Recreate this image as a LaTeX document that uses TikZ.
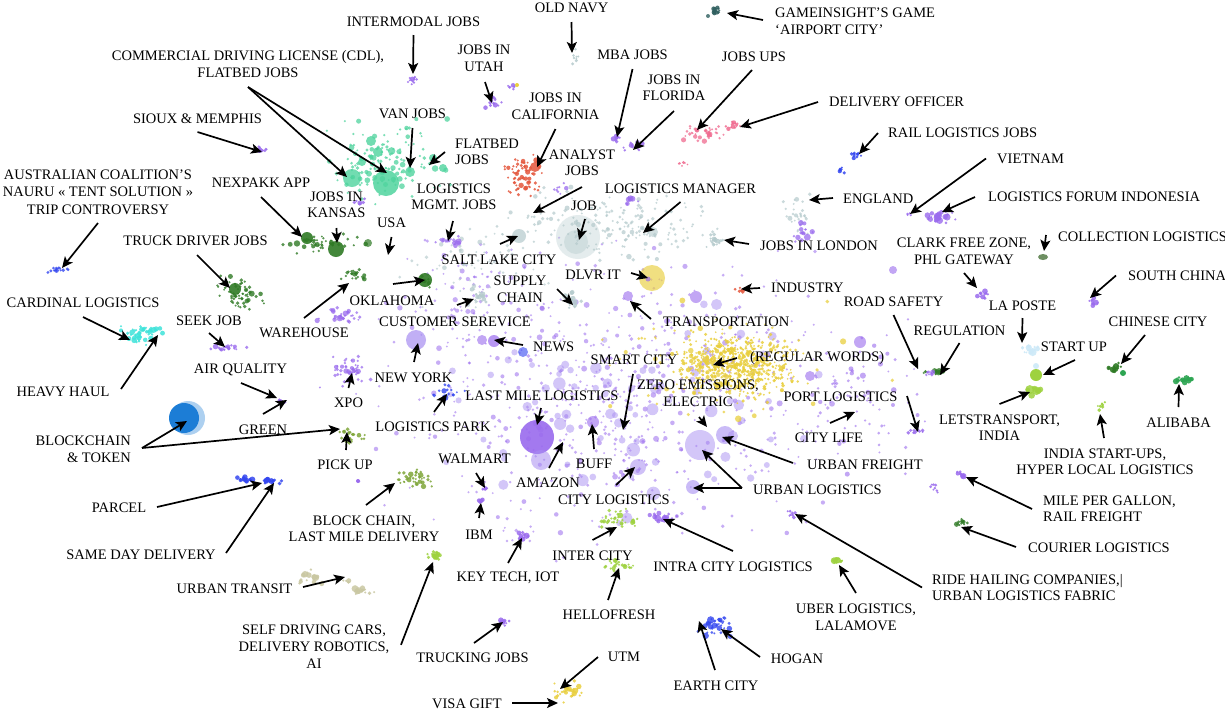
\documentclass[tikz,border=0pt]{standalone}
\usepackage{fontspec}
\setmainfont{Liberation Serif}
\usetikzlibrary{arrows.meta,calc}
\definecolor{purp}{HTML}{9A6BEE}
\definecolor{lpurp}{HTML}{A88EF2}
\definecolor{tealc}{HTML}{4FD49E}
\definecolor{dkg}{HTML}{2F7A25}
\definecolor{olv}{HTML}{7FA63A}
\definecolor{cyn}{HTML}{3FE3DA}
\definecolor{redc}{HTML}{E4563C}
\definecolor{pnk}{HTML}{F06B90}
\definecolor{gry}{HTML}{B4CACC}
\definecolor{ylw}{HTML}{E9CF3E}
\definecolor{blu}{HTML}{3447F0}
\definecolor{khk}{HTML}{C9C7A2}
\definecolor{lim}{HTML}{9ED23F}
\definecolor{dtl}{HTML}{2F5F5F}
\definecolor{lbl}{HTML}{CDE9F8}
\definecolor{bcb}{HTML}{1C7DD6}
\definecolor{grnc}{HTML}{2DA552}
\definecolor{dgg}{HTML}{6E8F62}
\newcommand{\clus}[9]{%
  \pgfmathsetseed{#1}%
  \foreach \k in {1,...,#6}{%
    \pgfmathsetmacro{\px}{#2+#4*(rand+rand+rand)/1.5}%
    \pgfmathsetmacro{\py}{#3+#5*(rand+rand+rand)/1.5}%
    \pgfmathsetmacro{\pr}{1.3*(#7+(#8-#7)*rnd*rnd)}%
    \fill[#9] (\px,\py) circle[radius=\pr pt];%
  }%
}
\tikzset{
  lab/.style={font=\fontsize{14.5}{16.5}\selectfont, inner sep=0pt, text=black},
  arr/.style={-{Stealth[length=11pt,width=10pt,inset=2.5pt]}, line width=1.7pt, black},
}
\begin{document}
\begin{tikzpicture}[x=1pt,y=-1pt]
\fill[white] (0,0) rectangle (1225,713);
\useasboundingbox (0,0) rectangle (1225,713);

% ---------------- scatter background ----------------
\clus{11}{610}{400}{150}{95}{650}{0.8}{2.4}{purp,opacity=.55}
\clus{12}{620}{410}{130}{80}{80}{2.2}{5.5}{lpurp,opacity=.5}
\clus{13}{860}{400}{40}{50}{80}{0.8}{2.6}{purp,opacity=.6}
\clus{14}{470}{300}{50}{40}{90}{0.8}{2.4}{purp,opacity=.55}
\clus{21}{610}{225}{70}{22}{200}{0.8}{2.2}{gry,opacity=.7}
\clus{22}{480}{270}{50}{30}{70}{0.8}{2.2}{gry,opacity=.65}
\clus{23}{800}{215}{10}{15}{30}{0.8}{2.2}{gry,opacity=.7}
\clus{24}{712}{240}{9}{4}{22}{0.8}{2.4}{gry,opacity=.8}
\clus{25}{478}{297}{6}{5}{15}{0.8}{2.5}{gry,opacity=.8}
\clus{26}{571}{300}{6}{5}{15}{0.8}{2.5}{gry,opacity=.8}
\clus{27}{576}{58}{3}{5}{8}{0.8}{2.2}{gry,opacity=.85}
\fill[gry,opacity=.35] (578,237) circle[radius=22pt];
\fill[gry,opacity=.4] (576,242) circle[radius=12pt];
\fill[gry,opacity=.7] (519,236) circle[radius=7pt];
\fill[gry,opacity=.6] (653,232) circle[radius=5pt];
\clus{31}{450}{240}{10}{4}{20}{0.8}{2.8}{purp,opacity=.75}
\clus{32}{560}{190}{5}{5}{8}{0.8}{2.5}{purp,opacity=.75}
\clus{33}{628}{200}{6}{3}{8}{0.8}{2.5}{purp,opacity=.75}
\clus{34}{803}{232}{6}{6}{18}{0.8}{3}{purp,opacity=.75}
\clus{41}{735}{365}{42}{22}{650}{0.7}{1.9}{ylw,opacity=.85}
\clus{42}{720}{360}{90}{40}{70}{0.8}{2.8}{ylw,opacity=.75}
\fill[ylw,opacity=.65] (652,278) circle[radius=13pt];
\fill[purp,opacity=.7] (648,279) circle[radius=2.5pt];
\clus{51}{413}{80}{5}{3}{12}{0.8}{2.5}{purp,opacity=.85}
\clus{52}{262}{150}{5}{2}{10}{0.8}{2.5}{purp,opacity=.85}
\clus{53}{716}{11}{4}{3}{12}{0.8}{3}{dtl,opacity=.85}
\fill[dtl,opacity=.8] (708,16) circle[radius=2pt];
\clus{54}{493}{103}{6}{5}{14}{0.8}{2.8}{purp,opacity=.85}
\clus{55}{512}{88}{4}{2}{6}{0.8}{2.2}{purp,opacity=.85}
\fill[ylw] (517,85) circle[radius=2pt];
\clus{56}{618}{139}{5}{3}{10}{0.8}{2.8}{purp,opacity=.85}
\clus{57}{633}{147}{7}{4}{12}{0.8}{2.8}{purp,opacity=.85}
\clus{61}{702}{132}{14}{6}{40}{0.7}{2.4}{pnk,opacity=.75}
\clus{62}{735}{125}{6}{3}{15}{0.7}{2.6}{pnk,opacity=.85}
\clus{63}{682}{164}{3}{2}{6}{0.7}{2.2}{pnk,opacity=.85}
\clus{64}{855}{155}{5}{2}{12}{0.8}{2.5}{blu,opacity=.85}
\clus{65}{841}{170}{3}{2}{8}{0.8}{2.5}{blu,opacity=.85}
\clus{66}{909}{214}{2}{1}{4}{0.8}{2}{purp,opacity=.85}
\clus{67}{940}{216}{10}{4}{25}{0.8}{3}{purp,opacity=.8}
\fill[dgg] (1043,257) ellipse[x radius=5pt,y radius=3pt];
\clus{68}{986}{295}{5}{3}{12}{0.8}{2.8}{purp,opacity=.85}
\clus{69}{1092}{303}{4}{3}{10}{0.8}{2.8}{purp,opacity=.85}
\clus{70}{1030}{350}{8}{4}{16}{0.8}{3.2}{lbl,opacity=.9}
\clus{71}{935}{372}{8}{2}{20}{0.8}{2.5}{dkg,opacity=.75}
\clus{72}{928}{373}{4}{2}{8}{0.8}{2.2}{purp,opacity=.75}
\fill[lbl,opacity=.9] (1036,366) circle[radius=3pt];
\fill[lim] (1036,375) circle[radius=6pt];
\clus{73}{1035}{390}{5}{3}{12}{0.8}{4}{lim,opacity=.85}
\clus{74}{1115}{367}{5}{3}{12}{0.8}{3}{dkg,opacity=.9}
\fill[grnc] (1123,373) circle[radius=3pt];
\clus{75}{1183}{380}{7}{2}{16}{0.8}{2.6}{grnc,opacity=.9}
\clus{76}{1102}{405}{4}{3}{8}{0.8}{3}{lim,opacity=.9}
\clus{77}{915}{431}{6}{2}{10}{0.8}{2.5}{purp,opacity=.85}
\clus{78}{962}{475}{4}{3}{10}{0.8}{2.6}{purp,opacity=.85}
\clus{79}{935}{488}{3}{3}{8}{0.8}{2.4}{purp,opacity=.85}
\clus{80}{960}{523}{4}{3}{12}{0.8}{2.4}{dkg,opacity=.8}
\clus{81}{792}{514}{4}{2}{8}{0.8}{2.4}{purp,opacity=.85}
\clus{82}{838}{561}{4}{2}{10}{0.8}{3}{lim,opacity=.9}
\clus{83}{715}{625}{12}{7}{35}{0.8}{3.5}{blu,opacity=.8}
\clus{84}{620}{565}{10}{4}{25}{0.8}{2.4}{lim,opacity=.85}
\clus{85}{616}{520}{14}{7}{35}{0.8}{2.4}{lim,opacity=.85}
\clus{86}{660}{517}{10}{4}{20}{0.8}{3}{purp,opacity=.8}
\clus{87}{522}{537}{4}{4}{12}{0.8}{3}{purp,opacity=.85}
\clus{88}{503}{622}{4}{2}{10}{0.8}{2.6}{purp,opacity=.85}
\clus{89}{570}{692}{12}{7}{30}{0.8}{2.4}{ylw,opacity=.85}
\clus{90}{436}{556}{7}{3}{20}{0.8}{2.4}{lim,opacity=.85}
\clus{91}{312}{578}{8}{5}{20}{0.8}{3}{khk,opacity=.85}
\clus{92}{363}{590}{7}{3}{15}{0.8}{3}{khk,opacity=.85}
\clus{93}{348}{581}{3}{2}{4}{0.8}{2}{khk,opacity=.85}
\clus{94}{245}{479}{6}{2}{15}{0.8}{2.6}{blu,opacity=.85}
\clus{95}{272}{481}{8}{2}{20}{0.8}{2.6}{blu,opacity=.85}
\clus{96}{412}{478}{12}{6}{40}{0.8}{2.4}{olv,opacity=.85}
\fill[purp] (358,481) circle[radius=2pt];
\clus{97}{350}{436}{10}{5}{25}{0.8}{2.2}{olv,opacity=.85}
\clus{98}{486}{488}{3}{2}{6}{0.8}{2.6}{purp,opacity=.9}
\clus{99}{481}{501}{3}{2}{6}{0.8}{2.6}{purp,opacity=.9}
\fill[bcb!45,opacity=.8] (188,418) circle[radius=17pt];
\fill[bcb] (184,418) circle[radius=15pt];
\clus{101}{282}{401}{3}{2}{6}{0.8}{2.5}{purp,opacity=.9}
\clus{102}{228}{348}{12}{2}{22}{0.8}{2.4}{purp,opacity=.8}
\clus{103}{350}{372}{16}{12}{45}{0.8}{2.4}{purp,opacity=.75}
\clus{104}{340}{316}{16}{5}{30}{0.8}{2.6}{purp,opacity=.75}
\clus{105}{142}{334}{17}{7}{45}{0.8}{2.8}{cyn,opacity=.85}
\clus{106}{60}{270}{8}{2}{15}{0.8}{2.2}{blu,opacity=.8}
\clus{107}{240}{292}{16}{12}{60}{0.8}{2.4}{dkg,opacity=.8}
\fill[dkg,opacity=.9] (235,289) circle[radius=6pt];
\clus{108}{322}{244}{24}{6}{45}{0.8}{2.6}{dkg,opacity=.8}
\fill[dkg,opacity=.9] (307,238) circle[radius=6pt];
\fill[dkg,opacity=.9] (336,249) circle[radius=8pt];
\fill[dkg,opacity=.7] (368,243) circle[radius=4pt];
\clus{109}{356}{275}{8}{4}{20}{0.8}{2.4}{dkg,opacity=.8}
\clus{110}{425}{281}{5}{4}{10}{0.8}{2.4}{dkg,opacity=.8}
\fill[dkg,opacity=.9] (425,280) circle[radius=7pt];
\clus{111}{446}{392}{12}{5}{15}{0.8}{2.6}{blu,opacity=.8}
\clus{121}{385}{160}{36}{25}{150}{0.8}{3}{tealc,opacity=.75}
\fill[tealc,opacity=.85] (386,183) circle[radius=13pt];
\fill[tealc,opacity=.8] (352,178) circle[radius=9pt];
\fill[tealc,opacity=.8] (371,141) circle[radius=5pt];
\fill[tealc,opacity=.8] (378,152) circle[radius=5pt];
\fill[tealc,opacity=.8] (410,172) circle[radius=5pt];
\fill[tealc,opacity=.8] (362,162) circle[radius=4pt];
\fill[tealc,opacity=.8] (433,158) circle[radius=4pt];
\fill[tealc,opacity=.8] (443,168) circle[radius=4pt];
\clus{122}{360}{203}{5}{3}{6}{0.8}{2.4}{purp,opacity=.85}
\clus{131}{522}{175}{14}{13}{70}{0.8}{2.4}{redc,opacity=.85}
\fill[redc,opacity=.85] (535,167) circle[radius=5pt];
\clus{132}{741}{289}{5}{2}{8}{0.8}{2.5}{redc,opacity=.85}
\fill[lpurp,opacity=.7] (416,340) circle[radius=10pt];
\fill[purp,opacity=.9] (537,437) circle[radius=17pt];
\fill[lpurp,opacity=.55] (541,460) circle[radius=10pt];
\fill[purp,opacity=.6] (593,422) circle[radius=6pt];
\fill[lpurp,opacity=.55] (638,467) circle[radius=8pt];
\fill[lpurp,opacity=.5] (700,445) circle[radius=15pt];
\fill[lpurp,opacity=.6] (725,435) circle[radius=9pt];
\fill[lpurp,opacity=.6] (693,487) circle[radius=7pt];
\fill[purp,opacity=.7] (494,341) circle[radius=6pt];
\fill[purp,opacity=.6] (482,340) circle[radius=5pt];
\fill[blu,opacity=.6] (523,352) circle[radius=5pt];
\fill[purp,opacity=.6] (628,296) circle[radius=5pt];
\fill[purp,opacity=.6] (696,297) circle[radius=6pt];
\fill[purp,opacity=.6] (860,342) circle[radius=6pt];
\fill[purp,opacity=.6] (810,376) circle[radius=5pt];
\fill[purp,opacity=.6] (893,270) circle[radius=4pt];

% ---------------- labels ----------------
\node[lab] (intermodal) at (413.5,22) {INTERMODAL JOBS};
\node[lab] (oldnavy) at (571.5,8) {OLD NAVY};
\node[lab,align=left,anchor=west] (game) at (775,21) {GAMEINSIGHT’S GAME\\‘AIRPORT CITY’};
\node[lab,align=center] (cdl) at (248,64) {COMMERCIAL DRIVING LICENSE (CDL),\\FLATBED JOBS};
\node[lab] (sioux) at (197.5,118.5) {SIOUX \& MEMPHIS};
\node[lab,align=center,font=\fontsize{14.5}{17.3}\selectfont] (aus) at (98,192) {AUSTRALIAN COALITION’S\\NAURU « TENT SOLUTION »\\TRIP CONTROVERSY};
\node[lab] (nexpakk) at (261,183) {NEXPAKK APP};
\node[lab,align=center] (kansas) at (336.5,205) {JOBS IN\\KANSAS};
\node[lab] (van) at (412.5,114) {VAN JOBS};
\node[lab,align=left,anchor=west] (flatbed) at (455,152) {FLATBED\\JOBS};
\node[lab,align=center] (mgmt) at (454,197) {LOGISTICS\\MGMT. JOBS};
\node[lab] (usa) at (391.5,223) {USA};
\node[lab,align=center] (utah) at (484,58.5) {JOBS IN\\UTAH};
\node[lab,align=center] (calif) at (555.5,106.5) {JOBS IN\\CALIFORNIA};
\node[lab,align=center] (analyst) at (582,163) {ANALYST\\JOBS};
\node[lab] (mba) at (632.5,55) {MBA JOBS};
\node[lab,align=center] (florida) at (674,88) {JOBS IN\\FLORIDA};
\node[lab] (ups) at (754,57) {JOBS UPS};
\node[lab,anchor=west] (delivery) at (829,102) {DELIVERY OFFICER};
\node[lab,anchor=west] (rail) at (888,133) {RAIL LOGISTICS JOBS};
\node[lab,anchor=west] (vietnam) at (997,158.5) {VIETNAM};
\node[lab,anchor=west] (forum) at (988,197) {LOGISTICS FORUM INDONESIA};
\node[lab,anchor=west] (england) at (843,199) {ENGLAND};
\node[lab,anchor=west] (london) at (760,245.5) {JOBS IN LONDON};
\node[lab,anchor=west] (collection) at (1058,236.5) {COLLECTION LOGISTICS};
\node[lab,align=center] (clark) at (964,251.5) {CLARK FREE ZONE,\\PHL GATEWAY};
\node[lab,anchor=west] (southchina) at (1128,275.5) {SOUTH CHINA};
\node[lab] (laposte) at (1022.5,305.5) {LA POSTE};
\node[lab] (roadsafety) at (893.5,302) {ROAD SAFETY};
\node[lab] (regulation) at (959.5,330.5) {REGULATION};
\node[lab] (startup) at (1074,346.5) {START UP};
\node[lab] (chinese) at (1158,321.5) {CHINESE CITY};
\node[lab] (alibaba) at (1178.5,422.5) {ALIBABA};
\node[lab,align=center] (lets) at (999.5,427.5) {LETSTRANSPORT,\\INDIA};
\node[lab,align=center] (indiastart) at (1105,462) {INDIA START-UPS,\\HYPER LOCAL LOGISTICS};
\node[lab] (port) at (840.5,397) {PORT LOGISTICS};
\node[lab] (citylife) at (829,437.5) {CITY LIFE};
\node[lab,anchor=west] (ufreight) at (807,464.5) {URBAN FREIGHT};
\node[lab,anchor=west] (ulog) at (753,489.5) {URBAN LOGISTICS};
\node[lab,anchor=west] (regwords) at (750,358) {(REGULAR WORDS)};
\node[lab,anchor=west] (transport) at (663,321.5) {TRANSPORTATION};
\node[lab,anchor=west] (industry) at (771,288) {INDUSTRY};
\node[lab] (dlvr) at (593,274.5) {DLVR IT};
\node[lab] (logmgr) at (680.5,188.7) {LOGISTICS MANAGER};
\node[lab] (job) at (584,205.5) {JOB};
\node[lab] (saltlake) at (499,259.5) {SALT LAKE CITY};
\node[lab] (oklahoma) at (392,300.5) {OKLAHOMA};
\node[lab,align=center] (supply) at (520,289.5) {SUPPLY\\CHAIN};
\node[lab] (custsvc) at (455,321.5) {CUSTOMER SEREVICE};
\node[lab] (warehouse) at (304,332.5) {WAREHOUSE};
\node[lab] (newyork) at (413.5,378) {NEW YORK};
\node[lab,anchor=west] (news) at (533,346.5) {NEWS};
\node[lab] (truckdriver) at (195.5,241) {TRUCK DRIVER JOBS};
\node[lab] (cardinal) at (83,303) {CARDINAL LOGISTICS};
\node[lab] (heavyhaul) at (63,391.5) {HEAVY HAUL};
\node[lab] (seekjob) at (209,320.5) {SEEK JOB};
\node[lab] (airq) at (240.5,370) {AIR QUALITY};
\node[lab] (green) at (263,429.5) {GREEN};
\node[lab] (xpo) at (348.5,403) {XPO};
\node[lab,align=right,anchor=east] (blockchain) at (131,449.5) {BLOCKCHAIN\\\& TOKEN};
\node[lab] (pickup) at (345,464.5) {PICK UP};
\node[lab] (logpark) at (433,427) {LOGISTICS PARK};
\node[lab] (lastmile) at (542,395.5) {LAST MILE LOGISTICS};
\node[lab] (walmart) at (474.5,458.5) {WALMART};
\node[lab] (ibm) at (479,534.5) {IBM};
\node[lab] (amazon) at (548,483) {AMAZON};
\node[lab] (buff) at (594,464) {BUFF};
\node[lab] (smartcity) at (634,359.5) {SMART CITY};
\node[lab,align=center] (zero) at (698,393.5) {ZERO EMISSIONS,\\ELECTRIC};
\node[lab] (citylog) at (614,499.5) {CITY LOGISTICS};
\node[lab] (intercity) at (592.5,555.5) {INTER CITY};
\node[lab] (intracity) at (733,566.5) {INTRA CITY LOGISTICS};
\node[lab] (keytech) at (508,578) {KEY TECH, IOT};
\node[lab] (hellofresh) at (609,614.5) {HELLOFRESH};
\node[lab,align=center] (bclmd) at (364,529) {BLOCK CHAIN,\\LAST MILE DELIVERY};
\node[lab] (parcel) at (119,508) {PARCEL};
\node[lab] (sameday) at (141,554.5) {SAME DAY DELIVERY};
\node[lab] (utransit) at (234.5,588.5) {URBAN TRANSIT};
\node[lab,align=center,font=\fontsize{14.5}{17.3}\selectfont] (selfdrv) at (314,646.8) {SELF DRIVING CARS,\\DELIVERY ROBOTICS,\\AI};
\node[lab] (trucking) at (472.5,658) {TRUCKING JOBS};
\node[lab] (utm) at (624,657) {UTM};
\node[lab] (visa) at (467,703.5) {VISA GIFT};
\node[lab] (earth) at (716,685.5) {EARTH CITY};
\node[lab] (hogan) at (797,658.5) {HOGAN};
\node[lab,align=center] (uber) at (856,617.5) {UBER LOGISTICS,\\LALAMOVE};
\node[lab,align=left,anchor=west] (ride) at (932,587.5) {RIDE HAILING COMPANIES,|\\URBAN LOGISTICS FABRIC};
\node[lab,anchor=west] (courier) at (1028,548) {COURIER LOGISTICS};
\node[lab,align=left,anchor=west] (mpg) at (1043,509) {MILE PER GALLON,\\RAIL FREIGHT};

% ---------------- arrow targets ----------------
\coordinate (t-intermodal) at (413,74);
\coordinate (t-oldnavy) at (572,53);
\coordinate (t-game) at (727,13);
\coordinate (t-cdl1) at (347,177);
\coordinate (t-cdl2) at (387,173);
\coordinate (t-sioux) at (262,152);
\coordinate (t-aus) at (62,268);
\coordinate (t-nexpakk) at (302,237);
\coordinate (t-kansas) at (337,243);
\coordinate (t-van) at (410,168);
\coordinate (t-flatbed) at (429,165);
\coordinate (t-mgmt) at (448,241);
\coordinate (t-usa) at (388,255);
\coordinate (t-utah) at (492,103);
\coordinate (t-calif) at (537,167);
\coordinate (t-analyst) at (533,213);
\coordinate (t-mba) at (617,137);
\coordinate (t-florida) at (633,150);
\coordinate (t-ups) at (697,130);
\coordinate (t-delivery) at (740,127);
\coordinate (t-rail) at (859,154);
\coordinate (t-vietnam) at (910,214);
\coordinate (t-forum) at (942,212);
\coordinate (t-england) at (809,200);
\coordinate (t-london) at (724,240);
\coordinate (t-collection) at (1044,251);
\coordinate (t-clark) at (977,288);
\coordinate (t-southchina) at (1090,298);
\coordinate (t-laposte) at (1022,343);
\coordinate (t-roadsafety) at (918,369);
\coordinate (t-regulation) at (940,375);
\coordinate (t-startup) at (1043,375);
\coordinate (t-chinese) at (1121,364);
\coordinate (t-alibaba) at (1179,384);
\coordinate (t-lets) at (1030,392);
\coordinate (t-indiastart) at (1100,414);
\coordinate (t-port) at (918,432);
\coordinate (t-citylife) at (855,412);
\coordinate (t-ufreight) at (722,437);
\coordinate (t-ulog1) at (702,450);
\coordinate (t-ulog2) at (693,488);
\coordinate (t-regwords) at (713,365);
\coordinate (t-transport) at (630,301);
\coordinate (t-industry) at (741,289);
\coordinate (t-dlvr) at (648,278);
\coordinate (t-logmgr) at (643,233);
\coordinate (t-job) at (579,240);
\coordinate (t-saltlake) at (518,236);
\coordinate (t-oklahoma) at (425,280);
\coordinate (t-supply) at (573,305);
\coordinate (t-custsvc) at (474,299);
\coordinate (t-warehouse) at (349,283);
\coordinate (t-newyork) at (418,343);
\coordinate (t-news) at (494,340);
\coordinate (t-truckdriver) at (230,288);
\coordinate (t-cardinal) at (130,340);
\coordinate (t-heavyhaul) at (158,335);
\coordinate (t-seekjob) at (225,347);
\coordinate (t-airq) at (277,398);
\coordinate (t-green) at (287,400);
\coordinate (t-xpo) at (352,373);
\coordinate (t-bc1) at (187,421);
\coordinate (t-bc2) at (340,429);
\coordinate (t-pickup) at (347,432);
\coordinate (t-logpark) at (447,394);
\coordinate (t-lastmile) at (537,425);
\coordinate (t-walmart) at (485,488);
\coordinate (t-ibm) at (481,503);
\coordinate (t-amazon) at (563,442);
\coordinate (t-buff) at (592,424);
\coordinate (t-smartcity) at (623,430);
\coordinate (t-zero) at (707,427);
\coordinate (t-citylog) at (635,467);
\coordinate (t-intercity) at (617,527);
\coordinate (t-intracity) at (663,519);
\coordinate (t-keytech) at (522,538);
\coordinate (t-hellofresh) at (619,568);
\coordinate (t-bclmd) at (395,483);
\coordinate (t-parcel) at (262,483);
\coordinate (t-sameday) at (274,483);
\coordinate (t-utransit) at (345,577);
\coordinate (t-selfdrv) at (433,562);
\coordinate (t-trucking) at (503,622);
\coordinate (t-utm) at (560,689);
\coordinate (t-visa) at (558,703);
\coordinate (t-earth) at (699,621);
\coordinate (t-hogan) at (721,629);
\coordinate (t-uber) at (839,565);
\coordinate (t-ride) at (795,514);
\coordinate (t-courier) at (961,527);
\coordinate (t-mpg) at (966,477);

% ---------------- arrows ----------------
\draw[arr] ($(intermodal)+(0,13)$) -- (t-intermodal);
\draw[arr] ($(oldnavy)+(0,14)$) -- (t-oldnavy);
\draw[arr] ($(game.west)+(-12,-1)$) -- (t-game);
\draw[arr] ($(cdl)+(0,23)$) -- (t-cdl1);
\draw[arr] ($(cdl)+(0,23)$) -- (t-cdl2);
\draw[arr] ($(sioux)+(0,13.5)$) -- (t-sioux);
\draw[arr] ($(aus)+(0,31)$) -- (t-aus);
\draw[arr] ($(nexpakk)+(0,14)$) -- (t-nexpakk);
\draw[arr] ($(kansas)+(0,23)$) -- (t-kansas);
\draw[arr] ($(van)+(0,14)$) -- (t-van);
\draw[arr] ($(flatbed.west)+(-10,0)$) -- (t-flatbed);
\draw[arr] ($(mgmt)+(-1,24)$) -- (t-mgmt);
\draw[arr] ($(usa)+(0,14)$) -- (t-usa);
\draw[arr] ($(utah)+(1,23.5)$) -- (t-utah);
\draw[arr] ($(calif)+(0,22.5)$) -- (t-calif);
\draw[arr] ($(analyst)+(0,24)$) -- (t-analyst);
\draw[arr] ($(mba)+(0,14)$) -- (t-mba);
\draw[arr] ($(florida)+(0,23)$) -- (t-florida);
\draw[arr] ($(ups)+(-2,13)$) -- (t-ups);
\draw[arr] ($(delivery.west)+(-11,0)$) -- (t-delivery);
\draw[arr] ($(rail.west)+(-10,0)$) -- (t-rail);
\draw[arr] ($(vietnam.west)+(-11,0)$) -- (t-vietnam);
\draw[arr] ($(forum.west)+(-13,0)$) -- (t-forum);
\draw[arr] ($(england.west)+(-10,-1)$) -- (t-england);
\draw[arr] ($(london.west)+(-11,-1.5)$) -- (t-london);
\draw[arr] ($(collection.west)+(-12,-1.5)$) -- (t-collection);
\draw[arr] ($(clark)+(0,21.5)$) -- (t-clark);
\draw[arr] ($(southchina.west)+(-12,0)$) -- (t-southchina);
\draw[arr] ($(laposte)+(0,12.5)$) -- (t-laposte);
\draw[arr] ($(roadsafety)+(0,13)$) -- (t-roadsafety);
\draw[arr] ($(regulation)+(0,12.5)$) -- (t-regulation);
\draw[arr] ($(startup)+(1,13.5)$) -- (t-startup);
\draw[arr] ($(chinese)+(-13,13.5)$) -- (t-chinese);
\draw[arr] ($(alibaba)+(0,-15.5)$) -- (t-alibaba);
\draw[arr] ($(lets)+(0,-23.5)$) -- (t-lets);
\draw[arr] ($(indiastart)+(-1,-24)$) -- (t-indiastart);
\draw[arr] ($(port)+(66.5,-1)$) -- (t-port);
\draw[arr] ($(citylife)+(1,-14.5)$) -- (t-citylife);
\draw[arr] ($(ufreight.west)+(-14,-1.5)$) -- (t-ufreight);
\draw[arr] ($(ulog.west)+(-11,-1.5)$) -- (t-ulog1);
\draw[arr] ($(ulog.west)+(-11,-1.5)$) -- (t-ulog2);
\draw[arr] ($(regwords.west)+(-13,0)$) -- (t-regwords);
\draw[arr] ($(transport.west)+(-12,-2.5)$) -- (t-transport);
\draw[arr] ($(industry.west)+(-11,0)$) -- (t-industry);
\draw[arr] ($(dlvr)+(38,-1.5)$) -- (t-dlvr);
\draw[arr] ($(logmgr)+(0,13.3)$) -- (t-logmgr);
\draw[arr] ($(job)+(1,13.5)$) -- (t-job);
\draw[arr] ($(saltlake)+(1,-15.5)$) -- (t-saltlake);
\draw[arr] ($(oklahoma)+(1,-16.5)$) -- (t-oklahoma);
\draw[arr] ($(supply)+(37,-0.5)$) -- (t-supply);
\draw[arr] ($(custsvc)+(2,-16.5)$) -- (t-custsvc);
\draw[arr] ($(warehouse)+(0,-14.5)$) -- (t-warehouse);
\draw[arr] ($(newyork)+(0.5,-16)$) -- (t-newyork);
\draw[arr] ($(news.west)+(-10,-1.5)$) -- (t-news);
\draw[arr] ($(truckdriver)+(1.5,14)$) -- (t-truckdriver);
\draw[arr] ($(cardinal)+(0,14)$) -- (t-cardinal);
\draw[arr] ($(heavyhaul)+(58,-2.5)$) -- (t-heavyhaul);
\draw[arr] ($(seekjob)+(0,12.5)$) -- (t-seekjob);
\draw[arr] ($(airq)+(0.5,13)$) -- (t-airq);
\draw[arr] ($(green)+(0,-15.5)$) -- (t-green);
\draw[arr] ($(xpo)+(0,-15)$) -- (t-xpo);
\draw[arr] ($(blockchain.east)+(11,-1.5)$) -- (t-bc1);
\draw[arr] ($(blockchain.east)+(11,-1.5)$) -- (t-bc2);
\draw[arr] ($(pickup)+(1,-14.5)$) -- (t-pickup);
\draw[arr] ($(logpark)+(1,-15)$) -- (t-logpark);
\draw[arr] ($(lastmile)+(-1,12.5)$) -- (t-lastmile);
\draw[arr] ($(walmart)+(1.5,14.5)$) -- (t-walmart);
\draw[arr] ($(ibm)+(0,-16.5)$) -- (t-ibm);
\draw[arr] ($(amazon)+(1,-15)$) -- (t-amazon);
\draw[arr] ($(buff)+(0,-15)$) -- (t-buff);
\draw[arr] ($(smartcity)+(-1,14.5)$) -- (t-smartcity);
\draw[arr] ($(zero)+(1,23.5)$) -- (t-zero);
\draw[arr] ($(citylog)+(2,-14.5)$) -- (t-citylog);
\draw[arr] ($(intercity)+(0,-15.5)$) -- (t-intercity);
\draw[arr] ($(intracity)+(0,-15.5)$) -- (t-intracity);
\draw[arr] ($(keytech)+(0,-15)$) -- (t-keytech);
\draw[arr] ($(hellofresh)+(-1,-14.5)$) -- (t-hellofresh);
\draw[arr] ($(bclmd)+(2,-24)$) -- (t-bclmd);
\draw[arr] ($(parcel)+(38,-1)$) -- (t-parcel);
\draw[arr] ($(sameday)+(85,-1.5)$) -- (t-sameday);
\draw[arr] ($(utransit)+(68.5,-1.5)$) -- (t-utransit);
\draw[arr] ($(selfdrv)+(87,-2)$) -- (t-selfdrv);
\draw[arr] ($(trucking)+(1.5,-15)$) -- (t-trucking);
\draw[arr] ($(utm)+(-26,0)$) -- (t-utm);
\draw[arr] ($(visa)+(45,-0.5)$) -- (t-visa);
\draw[arr] ($(earth)+(-1,-15.5)$) -- (t-earth);
\draw[arr] ($(hogan)+(-37,-1.5)$) -- (t-hogan);
\draw[arr] ($(uber)+(0,-24.5)$) -- (t-uber);
\draw[arr] ($(ride.west)+(-10,0)$) -- (t-ride);
\draw[arr] ($(courier.west)+(-12,-1)$) -- (t-courier);
\draw[arr] ($(mpg.west)+(-11,0)$) -- (t-mpg);
\end{tikzpicture}
\end{document}
